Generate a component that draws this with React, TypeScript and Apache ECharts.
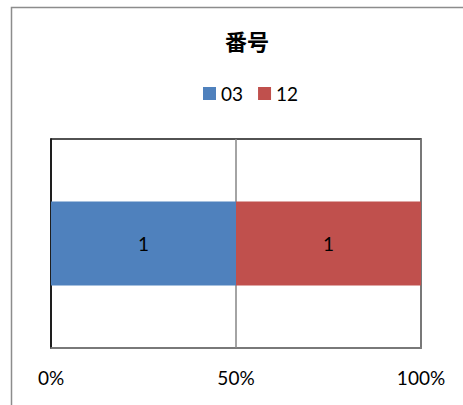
import React, { useEffect, useRef } from "react";
import * as echarts from "echarts";

const categories = ["番号"];
const seriesNames = ["03", "12"];
const seriesValues = [[1], [1]];
const seriesColors = ["#4F81BD", "#C0504D"];
const xTickMax = 100;
const xTickInterval = 50;

export default function App() {
  const ref = useRef<HTMLDivElement>(null);
  useEffect(() => {
    if (!ref.current) return;
    const chart = echarts.init(ref.current, null, { renderer: "svg" });
    const totals = categories.map((_, i) =>
      seriesValues.reduce((s, arr) => s + arr[i], 0)
    );
    const font = "Lato, 'Liberation Sans', sans-serif";
    chart.setOption({
      animation: false,
      backgroundColor: "#fff",
      title: {
        text: "番号",
        left: 242,
        textAlign: "center",
        top: 24,
        textStyle: {
          fontFamily: "'Noto Sans CJK JP', sans-serif",
          fontWeight: "bold",
          fontSize: 22,
          color: "#000",
        },
      },
      legend: {
        data: seriesNames,
        left: 198,
        top: 79,
        icon: "rect",
        itemWidth: 13,
        itemHeight: 13,
        itemGap: 15,
        textStyle: { fontFamily: font, fontSize: 19, color: "#000" },
      },
      graphic: [
        {
          type: "rect",
          shape: { x: 11.5, y: 7.5, width: 480, height: 420 },
          style: { fill: "none", stroke: "#8c8c8c", lineWidth: 1.5 },
          silent: true,
          z: 100,
        },
      ],
      grid: {
        left: 51,
        right: 42,
        top: 139,
        bottom: 57,
        show: true,
        borderColor: "#1a1a1a",
        borderWidth: 1.5,
      },
      xAxis: {
        type: "value",
        min: 0,
        max: xTickMax,
        interval: xTickInterval,
        axisLine: { show: true, lineStyle: { color: "#868686", width: 1.5 } },
        axisTick: { show: false },
        splitLine: { show: true, lineStyle: { color: "#868686", width: 1.5 } },
        axisLabel: {
          formatter: "{value}%",
          margin: 20,
          fontFamily: font,
          fontSize: 19,
          color: "#000",
        },
      },
      yAxis: {
        type: "category",
        data: categories,
        axisLine: { show: true, lineStyle: { color: "#000", width: 1.5 } },
        axisTick: { show: false },
        axisLabel: { show: false },
      },
      series: seriesNames.map((name, si) => ({
        name,
        type: "bar",
        stack: "total",
        barWidth: 84,
        itemStyle: { color: seriesColors[si] },
        label: {
          show: true,
          position: "inside",
          formatter: (p: any) => String(seriesValues[si][p.dataIndex]),
          fontFamily: font,
          fontSize: 19,
          color: "#000",
        },
        data: seriesValues[si].map((v, i) => (v / totals[i]) * 100),
      })),
    });
    return () => chart.dispose();
  }, []);
  return (
    <div
      ref={ref}
      style={{ position: "absolute", left: 0, top: 0, width: 463, height: 405 }}
    />
  );
}
